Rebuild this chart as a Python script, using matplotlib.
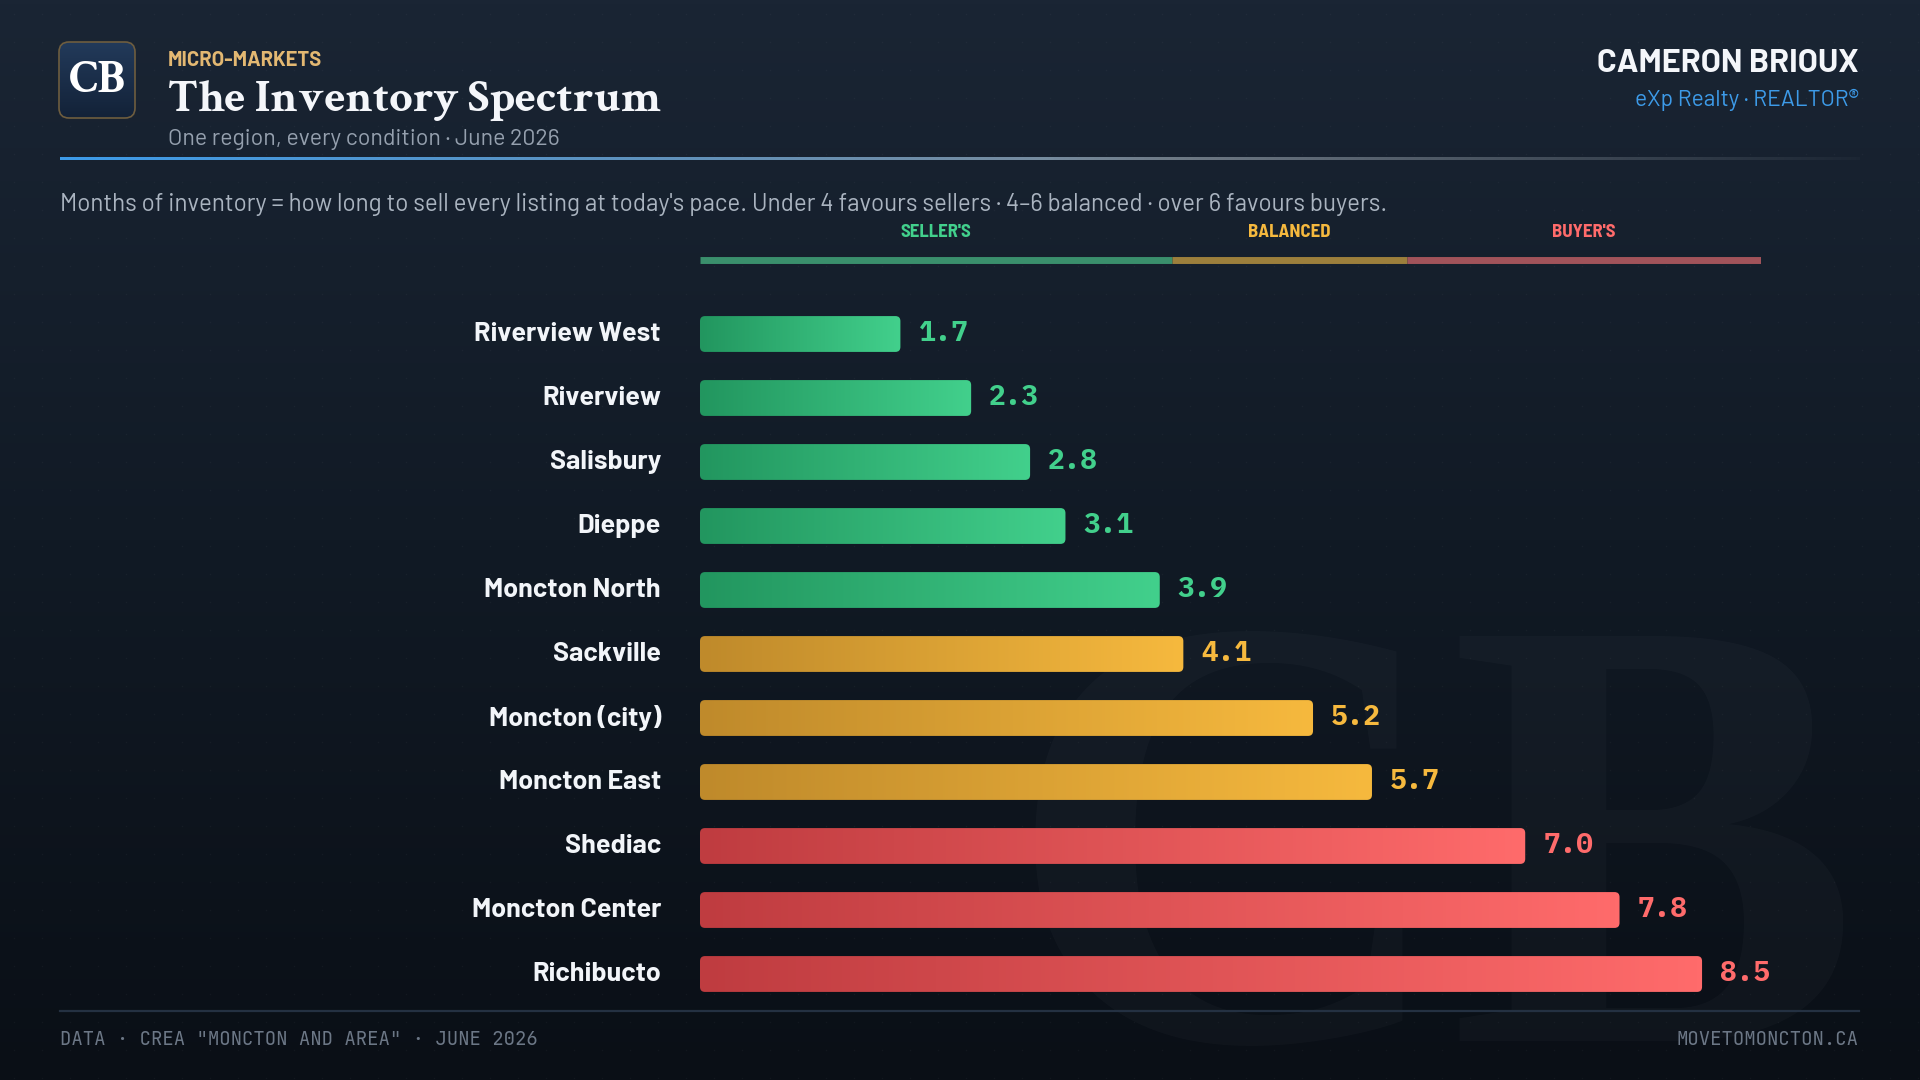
import numpy as np
import matplotlib.pyplot as plt
from matplotlib.colors import LinearSegmentedColormap, to_rgba
from matplotlib.patches import FancyBboxPatch

# Data
areas = ["Riverview West", "Riverview", "Salisbury", "Dieppe", "Moncton North",
         "Sackville", "Moncton (city)", "Moncton East", "Shediac",
         "Moncton Center", "Richibucto"]
months = [1.7, 2.3, 2.8, 3.1, 3.9, 4.1, 5.2, 5.7, 7.0, 7.8, 8.5]

zone_names = ["SELLER'S", "BALANCED", "BUYER'S"]
zone_edges = [0, 4, 6, 9]
zone_dark = ["#22965f", "#bf8a2b", "#bf3c40"]
zone_light = ["#42d08c", "#f6b93e", "#ff6b6b"]
zone_band = ["#3a8f6c", "#9c7f3c", "#a1535a"]

SANS = ['Barlow', 'Roboto', 'DejaVu Sans']
SANS_C = ['Barlow Semi Condensed', 'Barlow', 'Roboto', 'DejaVu Sans']
SERIF = ['Crimson Text', 'Liberation Serif', 'DejaVu Serif']
MONO = ['IBM Plex Mono', 'DejaVu Sans Mono']
MONO_FOOT = ['JetBrains Mono', 'DejaVu Sans Mono']

W, H = 1920, 1080
fig = plt.figure(figsize=(19.2, 10.8), dpi=100)
renderer = fig.canvas.get_renderer()


def fit(t, target):
    # scale font size so the text is target px wide
    w = t.get_window_extent(renderer).width
    t.set_fontsize(t.get_fontsize() * target / w)
    return t.get_fontsize()


# background layer in pixel coordinates
bg = fig.add_axes([0, 0, 1, 1])
bg.set_xlim(0, W)
bg.set_ylim(H, 0)
bg.axis('off')
bg_cmap = LinearSegmentedColormap.from_list('bg', ['#1a2534', '#111a25', '#0a0f16'])
bg.imshow(np.linspace(0, 1, 256).reshape(-1, 1), cmap=bg_cmap,
          extent=[0, W, H, 0], aspect='auto', zorder=0)

gx, gy = np.meshgrid(np.arange(14, W, 28), np.arange(14, H, 28))
bg.scatter(gx.ravel(), gy.ravel(), s=1.2, color='white', alpha=0.035,
           linewidths=0, zorder=1)

# watermark
bg.text(1005, 1040, "CB", family=['Liberation Serif'], fontweight='bold',
        fontsize=444, color='white', alpha=0.025, ha='left', va='baseline', zorder=1)

# logo
logo = FancyBboxPatch((59, 42), 76, 76, boxstyle='round,pad=0,rounding_size=10',
                      fc='none', ec='#6e5d3f', lw=1.2, zorder=3)
bg.add_patch(logo)
logo_cmap = LinearSegmentedColormap.from_list('logo', ['#223a5a', '#132238'])
im = bg.imshow(np.linspace(0, 1, 64).reshape(-1, 1), cmap=logo_cmap,
               extent=[59, 135, 118, 42], aspect='auto', zorder=2)
im.set_clip_path(logo)
t = bg.text(97, 81, "CB", family=SERIF, fontweight='bold', fontsize=27,
            color='white', ha='center', va='center', zorder=4)
fit(t, 57)

# header text
bg.text(168, 66, "MICRO-MARKETS", family=SANS, fontweight='bold',
        fontsize=14.5, color='#e3b872', va='baseline')
t = bg.text(168, 112, "The Inventory Spectrum", family=SERIF,
            fontweight='bold', fontsize=31, color='#f4f6fa', va='baseline')
fit(t, 493)
t = bg.text(168, 145, "One region, every condition · June 2026", family=SANS,
            fontsize=15, color='#95a0ae', va='baseline')
fit(t, 392)
t = bg.text(1859, 72, "CAMERON BRIOUX", family=SANS, fontweight='bold',
            fontsize=20, color='#f4f6fa', ha='right', va='baseline')
fit(t, 261)
t = bg.text(1859, 106, "eXp Realty · REALTOR®", family=SANS, fontsize=14,
            color='#3d9be9', ha='right', va='baseline')
fit(t, 225)

# header rule with gradient
n = 400
s = np.linspace(0, 1, n)
c0 = np.array(to_rgba('#3d9be9'))
c1 = np.array(to_rgba('#7f8a95'))
rule = c0 + (c1 - c0) * np.clip(s * 1.6, 0, 1)[:, None]
rule[:, 3] = np.where(s < 0.55, 1.0, 1.0 - (s - 0.55) / 0.45 * 0.95)
bg.imshow(rule.reshape(1, n, 4), extent=[60, 1860, 160, 157], aspect='auto', zorder=2)

t = bg.text(60, 205, "Months of inventory = how long to sell every listing at today's pace. "
            "Under 4 favours sellers · 4–6 balanced · over 6 favours buyers.",
            family=SANS, fontsize=15, color='#aab4c0', va='center')
fit(t, 1325)

# footer
bg.plot([60, 1859], [1011, 1011], color='#243142', lw=1.6, zorder=2)
t = bg.text(60, 1040, 'DATA · CREA "MONCTON AND AREA" · JUNE 2026',
            family=MONO_FOOT, fontsize=13.5, color='#6c7786', va='center')
fs = fit(t, 479)
bg.text(1859, 1040, "MOVETOMONCTON.CA", family=MONO_FOOT,
        fontsize=fs, color='#6c7786', va='center', ha='right')

# main chart axes
row0, step = 334.0, 64.0
top_px, bot_px = 220.0, 1006.0
ax = fig.add_axes([700 / W, (H - bot_px) / H, 1061 / W, (bot_px - top_px) / H])
ax.patch.set_alpha(0)
ax.axis('off')
ax.set_xlim(0, 9)
ax.set_ylim((bot_px - row0) / step, (top_px - row0) / step)

px_x = 1061 / 9.0
h = 0.56
r = 5 / px_x
ma = px_x / step
grad = np.linspace(0, 1, 256).reshape(1, -1)

val_texts, name_texts = [], []
for i, (name, v) in enumerate(zip(areas, months)):
    z = 0 if v < 4 else (1 if v <= 6 else 2)
    cm = LinearSegmentedColormap.from_list(f'z{i}', [zone_dark[z], zone_light[z]])
    box = FancyBboxPatch((0, i - h / 2), v, h,
                         boxstyle=f'round,pad=0,rounding_size={r}',
                         mutation_aspect=ma, fc='none', ec='none')
    ax.add_patch(box)
    bar = ax.imshow(grad, cmap=cm, extent=[0, v, i + h / 2, i - h / 2],
                    aspect='auto', interpolation='bilinear', zorder=2)
    bar.set_clip_path(box)
    val_texts.append(ax.text(v + 18 / px_x, i, f"{v:.1f}", family=MONO,
                             fontweight='bold', fontsize=19, color=zone_light[z],
                             va='center'))
    name_texts.append(ax.text(-39 / px_x, i, name, family=SANS, fontweight='bold',
                              fontsize=18, color='#f2f5f9', ha='right', va='center'))

fs = fit(val_texts[0], 50)
for t in val_texts:
    t.set_fontsize(fs)
fs = fit(name_texts[0], 187)
for t in name_texts:
    t.set_fontsize(fs)

# spectrum band
yb = (259.6 - row0) / step
yl = (232.7 - row0) / step
for z in range(3):
    ax.plot([zone_edges[z], zone_edges[z + 1]], [yb, yb], color=zone_band[z],
            lw=5, solid_capstyle='butt', zorder=2)
    ax.text((zone_edges[z] + zone_edges[z + 1]) / 2, yl, zone_names[z],
            family=SANS_C, fontweight='bold', fontsize=13.5,
            color=zone_light[z], ha='center', va='center')

ax.set_xlim(0, 9)
ax.set_ylim((bot_px - row0) / step, (top_px - row0) / step)

fig.savefig("out.png", dpi=100)
